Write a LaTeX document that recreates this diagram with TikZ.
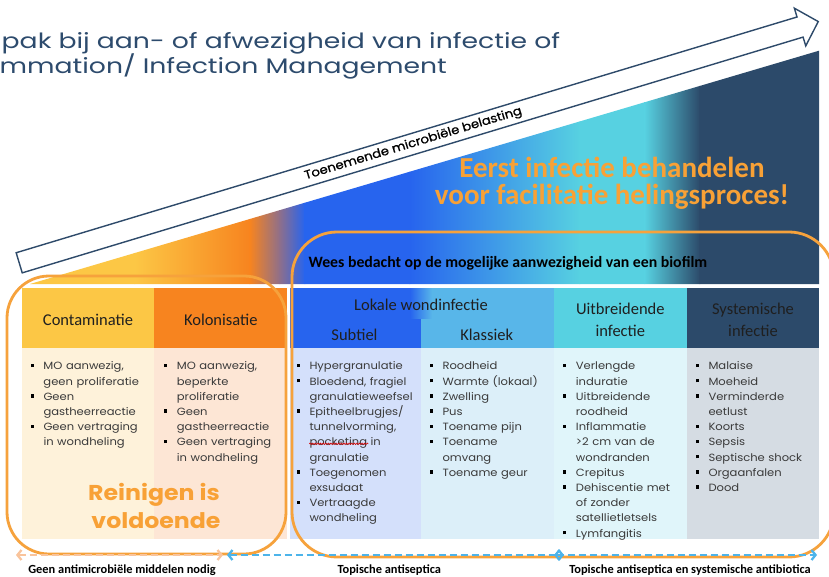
\documentclass[tikz,border=0pt]{standalone}
\usepackage{fontspec}
\setmainfont{Carlito}
\newfontfamily\geofont[FakeStretch=1.1]{Poppins}
\newfontfamily\geomedium[FakeStretch=1.1, FakeBold=0.8]{Poppins}
\newfontfamily\headfont[FakeStretch=1.27]{Poppins}
\usetikzlibrary{arrows.meta,decorations.pathmorphing}

\definecolor{titleblue}{HTML}{2D4B6D}
\definecolor{arrowline}{HTML}{2E4A6A}
\definecolor{contamhead}{HTML}{FCC745}
\definecolor{kolonhead}{HTML}{F7841F}
\definecolor{rampmauve}{HTML}{8E6F8B}
\definecolor{subtielhead}{HTML}{2764EE}
\definecolor{klassiekhead}{HTML}{58B6E9}
\definecolor{uitbrhead}{HTML}{57D1E1}
\definecolor{systhead}{HTML}{2C4A6A}
\definecolor{contambody}{HTML}{FEF2DA}
\definecolor{kolonbody}{HTML}{FDE6D5}
\definecolor{subtielbody}{HTML}{D4E0FB}
\definecolor{klassiekbody}{HTML}{DCEFF9}
\definecolor{uitbrbody}{HTML}{E0F5FA}
\definecolor{systbody}{HTML}{D5DCE3}
\definecolor{outlineorange}{HTML}{F6A23C}
\definecolor{calloutorange}{HTML}{F8A136}
\definecolor{bodytext}{HTML}{3A3A3A}
\definecolor{peach}{HTML}{F9C49C}
\definecolor{skyblue}{HTML}{4DB4EA}

\newcommand{\itm}{\par\noindent\strut
  \makebox[13pt][l]{\textcolor{black}{\raisebox{2.7pt}{\rule{3.3pt}{3.3pt}}}}}
\newcommand{\nl}{\newline\strut\hspace*{13pt}}

\begin{document}
\begin{tikzpicture}[
  x=1pt, y=-1pt,
  pagetitle/.style={font=\headfont\fontsize{21}{25}\selectfont, text=titleblue,
                    anchor=base west, inner sep=0pt},
  header/.style={font=\fontsize{16.5}{20}\selectfont, text=black!88,
                 anchor=base, inner sep=0pt},
  listcell/.style={font=\geofont\fontsize{10.5}{15.2}\selectfont, text=bodytext,
                   anchor=north west, inner sep=0pt, text width=128pt, align=left},
  callout/.style={font=\bfseries\fontsize{29}{32}\selectfont, text=calloutorange,
                  anchor=base, inner sep=0pt},
  cleaning/.style={font=\geofont\bfseries\fontsize{21.5}{28}\selectfont,
                   text=calloutorange, anchor=base, inner sep=0pt},
  footer/.style={font=\bfseries\fontsize{12.4}{14}\selectfont, anchor=base, inner sep=0pt},
  outline/.style={draw=outlineorange, line width=2.8pt},
  dasharrow/.style={line width=2.3pt, dash pattern=on 7pt off 4pt,
                    {Straight Barb[length=4pt,width=10pt]}-{Straight Barb[length=4pt,width=10pt]}}
]
\useasboundingbox (0,0) rectangle (829,577);
\clip (0,0) rectangle (829,577);
\fill[white] (0,0) rectangle (829,577);

\node[pagetitle] (titleone) at (1.5,48.3) {pak bij aan- of afwezigheid van infectie of};
\node[pagetitle] (titletwo) at (-0.5,73.3) {mmation/ Infection Management};

\begin{scope}
  \clip (30,284) -- (819,50.7) -- (819,284) -- cycle;
  \foreach \xa/\xb/\ca/\cb in {0/135/contamhead/contamhead,
      135/250/contamhead/kolonhead, 250/280/kolonhead/rampmauve,
      280/305/rampmauve/subtielhead, 305/410/subtielhead/subtielhead,
      410/580/subtielhead/uitbrhead, 580/645/uitbrhead/uitbrhead,
      645/700/uitbrhead/systhead, 700/830/systhead/systhead}
    \shade[left color=\ca, right color=\cb] (\xa-0.5,40) rectangle (\xb,290);
\end{scope}

\coordinate (loadtail) at (19.2,262.8);
\begin{scope}[shift={(loadtail)}, rotate=16.8]
  \draw[arrowline, line width=1.4pt, fill=white]
    (0,-10.5) -- (815.7,-10.5) -- (815.7,-19.7) -- (834.7,0)
    -- (815.7,19.7) -- (815.7,10.5) -- (0,10.5) -- cycle;
  \node[font=\geomedium\fontsize{12}{14}\selectfont, rotate=16.8] (loadlabel)
    at (411.7,0) {Toenemende microbiële belasting};
\end{scope}

\node[callout] (treatfirst) at (612,177.3) {Eerst infectie behandelen};
\node[callout] (treatsecond) at (612,205) {voor facilitatie helingsproces!};
\node[anchor=base west, font=\bfseries\fontsize{15.8}{18}\selectfont, inner sep=0pt]
  (biofilm) at (308.3,267.7) {Wees bedacht op de mogelijke aanwezigheid van een biofilm};

\foreach \xa/\xb/\hc/\bc in {21.7/154.3/contamhead/contambody,
    154.3/287.3/kolonhead/kolonbody, 290/420.7/subtielhead/subtielbody,
    420.7/554/klassiekhead/klassiekbody, 554/686.7/uitbrhead/uitbrbody,
    686.7/819.3/systhead/systbody}
{
  \fill[\hc] (\xa,288.3) rectangle (\xb,348.3);
  \fill[\bc] (\xa,348.3) rectangle (\xb,539.3);
}
\shade[left color=subtielhead, right color=klassiekhead] (410,288.3) rectangle (432,318);

\node[header] (contamname) at (88,325.7) {Contaminatie};
\node[header] (kolonname) at (220.8,325.7) {Kolonisatie};
\node[header] (lokaalname) at (421,310.7) {Lokale wondinfectie};
\node[header] (subtielname) at (354.5,340.7) {Subtiel};
\node[header] (klassiekname) at (486.7,340.7) {Klassiek};
\node[header] (uitbrname) at (620.3,314.3) {Uitbreidende};
\node[header] (uitbrsub) at (620.3,336) {infectie};
\node[header] (systname) at (753,314.3) {Systemische};
\node[header] (systsub) at (753,336) {infectie};

\node[listcell] (contamlist) at (30.3,354.4) {%
  \itm MO aanwezig,\nl geen proliferatie
  \itm Geen\nl gastheerreactie
  \itm Geen vertraging\nl in wondheling};
\node[listcell] (kolonlist) at (163.7,354.4) {%
  \itm MO aanwezig,\nl beperkte\nl proliferatie
  \itm Geen\nl gastheerreactie
  \itm Geen vertraging\nl in wondheling};
\node[listcell] (subtiellist) at (296.3,354.4) {%
  \itm Hypergranulatie
  \itm Bloedend, fragiel\nl granulatieweefsel
  \itm Epitheelbrugjes/\nl tunnelvorming,\nl pocketing in\nl granulatie
  \itm Toegenomen\nl exsudaat
  \itm Vertraagde\nl wondheling};
\draw[red!85!black, line width=0.6pt, decorate,
      decoration={snake, amplitude=0.8pt, segment length=2.6pt}]
  (309.3,443.8) -- (368.3,443.8);
\node[listcell] (klassieklist) at (429.3,354.4) {%
  \itm Roodheid
  \itm Warmte (lokaal)
  \itm Zwelling
  \itm Pus
  \itm Toename pijn
  \itm Toename\nl omvang
  \itm Toename geur};
\node[listcell] (uitbrlist) at (562.7,354.4) {%
  \itm Verlengde\nl induratie
  \itm Uitbreidende\nl roodheid
  \itm Inflammatie\nl >2 cm van de\nl wondranden
  \itm Crepitus
  \itm Dehiscentie met\nl of zonder\nl satellietletsels
  \itm Lymfangitis};
\node[listcell] (systlist) at (695.3,354.4) {%
  \itm Malaise
  \itm Moeheid
  \itm Verminderde\nl eetlust
  \itm Koorts
  \itm Sepsis
  \itm Septische shock
  \itm Orgaanfalen
  \itm Dood};

\node[cleaning] (cleanfirst) at (154,500) {Reinigen is};
\node[cleaning] (cleansecond) at (156,528.3) {voldoende};

\draw[outline, rounded corners=42pt] (7,276) rectangle (286,554);
\draw[outline, rounded corners=45pt] (292,232) rectangle (834,557);

\coordinate (noneleft) at (16,555);
\coordinate (noneright) at (223,555);
\coordinate (topleft) at (227,555);
\coordinate (topright) at (564,555);
\coordinate (sysleft) at (554,555);
\coordinate (sysright) at (817,555);
\draw[dasharrow, draw=peach] (noneleft) -- (noneright);
\draw[dasharrow, draw=skyblue] (topleft) -- (topright);
\draw[dasharrow, draw=skyblue] (sysleft) -- (sysright);

\node[footer] (nodrugs) at (122,573.3) {Geen antimicrobiële middelen nodig};
\node[footer] (topical) at (389.3,573.3) {Topische antiseptica};
\node[footer] (systemic) at (690,573.3) {Topische antiseptica en systemische antibiotica};
\end{tikzpicture}
\end{document}
